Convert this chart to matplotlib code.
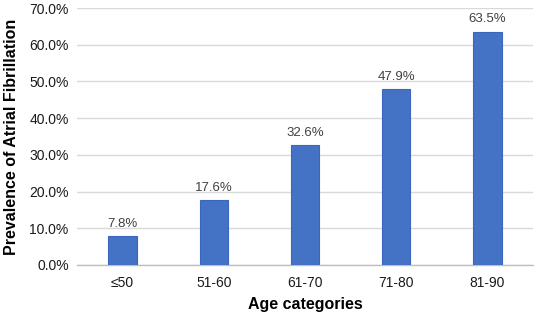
import matplotlib
matplotlib.use("Agg")
import matplotlib.pyplot as plt
from matplotlib.ticker import FuncFormatter

categories = ["≤50", "51-60", "61-70", "71-80", "81-90"]
values = [7.8, 17.6, 32.6, 47.9, 63.5]
yticks = [0, 10, 20, 30, 40, 50, 60, 70]

plt.rcParams['font.family'] = ['Liberation Sans', 'DejaVu Sans']

fig = plt.figure(figsize=(5.36, 3.17), dpi=100)
ax = fig.add_axes([77/536, 1-265/317, (533-77)/536, (265-8)/317])

x = range(len(categories))
bars = ax.bar(x, values, width=0.31, color="#4472C4", edgecolor="#3A66C0", linewidth=0.8, zorder=3)
for xi, v in zip(x, values):
    ax.text(xi, v + 1.8, f"{v:.1f}%", ha="center", va="bottom", fontsize=9.5, color="#404040")

ax.set_xlim(-0.5, len(categories) - 0.5)
ax.set_ylim(0, 70)
ax.set_yticks(yticks)
ax.yaxis.set_major_formatter(FuncFormatter(lambda v, p: f"{v:.1f}%"))
ax.set_xticks(list(x))
ax.set_xticklabels(categories)
ax.tick_params(axis="both", length=0, labelsize=10, colors="#1a1a1a")
ax.tick_params(axis="x", pad=8)
ax.tick_params(axis="y", pad=6)
ax.grid(axis="y", color="#D9D9D9", linewidth=1, zorder=0)
for s in ["top", "right", "left"]:
    ax.spines[s].set_visible(False)
ax.spines["bottom"].set_color("#BFBFBF")
ax.spines["bottom"].set_linewidth(1)

ax.set_xlabel("Age categories", fontsize=11.5, fontweight="bold", labelpad=5)
ax.set_ylabel("Prevalence of Atrial Fibrillation", fontsize=11.5, fontweight="bold", labelpad=7)

fig.savefig("out.png", dpi=100)
